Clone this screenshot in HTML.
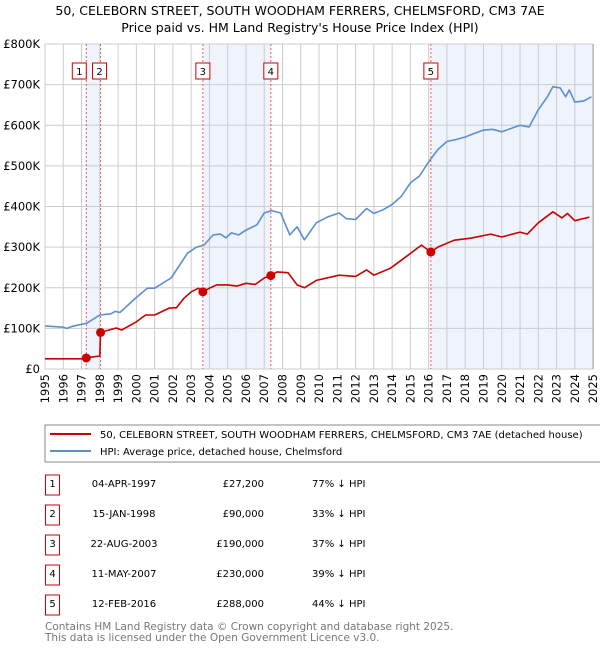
<!DOCTYPE html>
<html><head><meta charset="utf-8"><style>
body{margin:0;background:#fff;font-family:"DejaVu Sans","Liberation Sans",sans-serif;}
svg text{font-family:"DejaVu Sans","Liberation Sans",sans-serif;}
</style></head><body>
<svg id="c" width="600" height="650" xmlns="http://www.w3.org/2000/svg">
<text x="300" y="15" text-anchor="middle" font-size="12.5" fill="#000">50, CELEBORN STREET, SOUTH WOODHAM FERRERS, CHELMSFORD, CM3 7AE</text>
<text x="300" y="32" text-anchor="middle" font-size="12.5" fill="#000">Price paid vs. HM Land Registry's House Price Index (HPI)</text>
<g id="plot"></g>
<rect x="45" y="425" width="560" height="37" fill="#fff" stroke="#888"/>
<line x1="50" y1="434" x2="91" y2="434" stroke="#cc0000" stroke-width="2"/>
<text x="100" y="438" font-size="10">50, CELEBORN STREET, SOUTH WOODHAM FERRERS, CHELMSFORD, CM3 7AE (detached house)</text>
<line x1="50" y1="451" x2="91" y2="451" stroke="#5b8fd0" stroke-width="2"/>
<text x="100" y="455" font-size="10">HPI: Average price, detached house, Chelmsford</text>
<g id="table" font-size="10"></g>
<text x="45" y="630" font-size="10.5" fill="#777">Contains HM Land Registry data © Crown copyright and database right 2025.</text>
<text x="45" y="641" font-size="10.5" fill="#777">This data is licensed under the Open Government Licence v3.0.</text>
</svg>
<script>
const yTicks=[0,100,200,300,400,500,600,700,800];
const yLabels=["£0","£100K","£200K","£300K","£400K","£500K","£600K","£700K","£800K"];
const xYears=[1995,1996,1997,1998,1999,2000,2001,2002,2003,2004,2005,2006,2007,2008,2009,2010,2011,2012,2013,2014,2015,2016,2017,2018,2019,2020,2021,2022,2023,2024,2025];
const hpiT=[1995,1996,1996.2,1996.5,1997,1997.3,1998,1998.6,1998.85,1999.1,1999.9,2000.6,2001,2001.9,2002.3,2002.8,2003.3,2003.7,2004.2,2004.6,2004.9,2005.2,2005.6,2006,2006.6,2007,2007.4,2007.9,2008.1,2008.4,2008.8,2009.2,2009.85,2010.5,2011.1,2011.5,2012,2012.6,2013,2013.5,2014,2014.5,2015,2015.5,2016,2016.5,2017,2017.5,2018,2018.5,2019,2019.5,2020,2020.5,2021,2021.5,2022,2022.5,2022.8,2023.2,2023.5,2023.7,2024,2024.5,2024.9];
const hpiV=[106,103,100,105,110,113,133,136,142,139,172,199,199,224,251,285,300,305,330,332,323,335,330,342,355,384,390,384,362,330,350,318,360,375,384,370,368,395,383,392,405,425,458,475,510,540,560,565,571,580,588,590,584,592,600,596,638,670,695,692,670,687,657,660,670];
const redT=[1995,1997,1997.26,1997.5,1998.0,1998.04,1998.9,1999.2,2000,2000.5,2001,2001.8,2002.2,2002.6,2003,2003.4,2003.64,2004,2004.4,2005,2005.5,2006,2006.5,2007,2007.36,2007.7,2008.3,2008.8,2009.2,2009.85,2011.1,2012,2012.6,2013,2013.9,2014.9,2015.6,2016.12,2016.5,2017.4,2018.3,2019.4,2020,2021,2021.4,2022,2022.8,2023.3,2023.6,2024,2024.8];
const redV=[25,25,27.2,29,32,90,101,96,116,133,133,150,151,174,190,199,190,199,207,207,204,211,208,224,230,239,237,207,200,218,231,228,244,231,248,281,305,288,300,317,322,332,325,337,332,360,387,372,383,365,374];
const saleT=[1997.26,1998.04,2003.64,2007.36,2016.12];
const saleV=[27.2,90,190,230,288];
const saleLabels=["1","2","3","4","5"];
const saleDates=["04-APR-1997","15-JAN-1998","22-AUG-2003","11-MAY-2007","12-FEB-2016"];
const salePrices=["£27,200","£90,000","£190,000","£230,000","£288,000"];
const salePct=["77% ↓ HPI","33% ↓ HPI","37% ↓ HPI","39% ↓ HPI","44% ↓ HPI"];

const X=t=>45+(t-1995)*18.27, Y=v=>369-v*0.40625;
const NS="http://www.w3.org/2000/svg";
function mk(p,tag,a){const e=document.createElementNS(NS,tag);for(const k in a)e.setAttribute(k,a[k]);p.appendChild(e);return e;}
const g=document.getElementById('plot');
// shading
const shades=[[0,1],[2,3],[4,null]];
shades.forEach((s,i)=>{const x1=X(saleT[s[0]]),x2=s[1]===null?X(2025):X(saleT[s[1]]);
const r=mk(g,'rect',{x:x1,y:Y(800),width:x2-x1,height:Y(0)-Y(800),fill:'#eef3fc'});

});
yTicks.forEach((v,i)=>{const l=mk(g,'line',{x1:45,x2:X(2025),y1:Y(v),y2:Y(v),stroke:'#ccc'});


const t=mk(g,'text',{x:40,y:Y(v)+4,'text-anchor':'end','font-size':'11.5'});t.textContent=yLabels[i];

});
xYears.forEach(yr=>{const l=mk(g,'line',{x1:X(yr),x2:X(yr),y1:Y(800),y2:Y(0),stroke:'#ccc'});


const t=mk(g,'text',{x:0,y:0,'font-size':'11.5','text-anchor':'end',transform:`translate(${X(yr)+4},374) rotate(-90)`});t.textContent=yr;

});
saleT.forEach((t,i)=>{const l=mk(g,'line',{x1:X(t),x2:X(t),y1:Y(800),y2:Y(0),stroke:'#e06060','stroke-dasharray':'2,2'});

});
function path(T,V,col,name){const d=T.map((t,i)=>(i?'L':'M')+X(t).toFixed(1)+','+Y(V[i]).toFixed(1)).join('');
const p=mk(g,'path',{d:d,fill:'none',stroke:col,'stroke-width':1.6,'stroke-linejoin':'round'});

}
path(hpiT,hpiV,'#5b8fd0','hpi-line');
path(redT,redV,'#cc0000','price-paid-line');
saleT.forEach((t,i)=>{const c=mk(g,'circle',{cx:X(t),cy:Y(saleV[i]),r:4.5,fill:'#cc0000'});


let cx=X(t); if(i===0)cx-=7; if(i===1)cx=X(saleT[1])-1;
const b=mk(g,'rect',{x:cx-7,y:63,width:14,height:16,fill:'#fff',stroke:'#cc0000'});


const tx=mk(g,'text',{x:cx,y:75,'text-anchor':'middle','font-size':'10'});tx.textContent=saleLabels[i];

});
mk(g,'line',{x1:X(2025),x2:X(2025),y1:Y(800),y2:Y(0),stroke:'#999'});
const tb=document.getElementById('table');
saleLabels.forEach((s,i)=>{const y=485+i*30;
const b=mk(tb,'rect',{x:45.5,y:y-10,width:14,height:20,fill:'#fff',stroke:'#cc0000'});


const n=mk(tb,'text',{x:52.5,y:y+2,'text-anchor':'middle'});n.textContent=s;


const d=mk(tb,'text',{x:124,y:y+2,'text-anchor':'middle'});d.textContent=saleDates[i];


const p=mk(tb,'text',{x:264,y:y+2,'text-anchor':'end'});p.textContent=salePrices[i];


const q=mk(tb,'text',{x:312,y:y+2});q.textContent=salePct[i];

});
</script>
</body></html>
